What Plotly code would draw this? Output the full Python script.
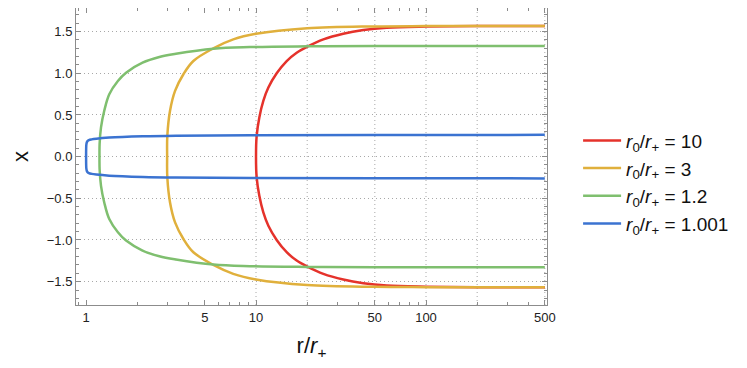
import plotly.graph_objects as go
import numpy as np

# upper branches (lower branch is the mirror image)
r_10 = [10, 10.09, 10.46, 11.04, 11.82, 13.23, 15.15, 17.35, 20.04, 24.9, 32.6, 42.8, 58.7, 100, 200, 500]
x_10 = [0, 0.251, 0.47, 0.669, 0.829, 1.0, 1.147, 1.247, 1.319, 1.406, 1.474, 1.518, 1.546, 1.560, 1.566, 1.568]

r_3 = [3, 3.008, 3.12, 3.34, 3.74, 4.28, 5.61, 7.35, 10, 20, 50, 100, 500]
x_3 = [0, 0.251, 0.55, 0.789, 0.988, 1.147, 1.299, 1.406, 1.473, 1.54, 1.562, 1.566, 1.568]

r_12 = [1.2, 1.202, 1.225, 1.28, 1.37, 1.54, 1.72, 2.15, 2.70, 3.38, 5.61, 9.2, 20, 50, 500]
x_12 = [0, 0.152, 0.35, 0.55, 0.749, 0.908, 1.007, 1.127, 1.195, 1.234, 1.295, 1.314, 1.323, 1.326, 1.327]

r_1001 = [1.001, 1.002, 1.004, 1.01, 1.02, 1.04, 1.08, 1.15, 1.37, 2.16, 3.38, 10, 50, 500]
x_1001 = [0, 0.1, 0.14, 0.17, 0.185, 0.198, 0.207, 0.215, 0.228, 0.243, 0.25, 0.257, 0.26, 0.261]

labels = ["10", "3", "1.2", "1.001"]
colors = ["#E5322B", "#E0B03C", "#7FBF6F", "#3B73D1"]

x_tickvals = [1, 5, 10, 50, 100, 500]
x_minor = [0.9, 2, 3, 4, 6, 7, 8, 9, 20, 30, 40, 60, 70, 80, 90, 200, 300, 400]
x_grid = [10, 20, 50, 100, 200, 500]

series = [(r_10, x_10), (r_3, x_3), (r_12, x_12), (r_1001, x_1001)]

fig = go.Figure()
for i, (rr, xx) in enumerate(series):
    r_full = rr[::-1] + rr[1:]
    x_full = [-v for v in xx[::-1]] + xx[1:]
    fig.add_trace(go.Scatter(
        x=r_full, y=x_full, mode="lines",
        line=dict(color=colors[i], width=2.5, shape="spline", smoothing=1.0),
        name=f"<i>r</i><sub>0</sub>/<i>r</i><sub>+</sub> = {labels[i]}",
        legendgroup=f"g{i}",
    ))

# vertical dotted grid only from 10 upward
for g in x_grid:
    fig.add_shape(type="line", xref="x", yref="paper", x0=g, x1=g, y0=0, y1=1,
                  line=dict(color="#a8a8a8", width=1, dash="1px,3px"), layer="below")

axis_font = dict(family="Liberation Sans, Arial", size=13, color="#222")
grey = "#8c8c8c"

fig.update_xaxes(
    type="log", range=[np.log10(0.873), np.log10(515)],
    tickvals=x_tickvals, ticktext=[str(v) for v in x_tickvals],
    ticks="inside", ticklen=5, tickcolor=grey,
    minor=dict(tickvals=x_minor, ticks="inside", ticklen=3, tickcolor=grey, showgrid=False),
    showgrid=False, zeroline=False,
    showline=True, linecolor=grey, linewidth=1, mirror="ticks",
    tickfont=axis_font,
    title=dict(text="r/<i>r</i><sub>+</sub>", font=dict(family="Liberation Sans, Arial", size=22, color="#111"), standoff=14),
)
fig.update_yaxes(
    range=[-1.78, 1.783], dtick=0.5, tick0=0, tickformat=".1f",
    ticks="inside", ticklen=5, tickcolor=grey,
    minor=dict(dtick=0.1, ticks="inside", ticklen=3, tickcolor=grey, showgrid=False),
    showgrid=True, gridcolor="#a8a8a8", griddash="1px,3px", gridwidth=1,
    zeroline=False,
    showline=True, linecolor=grey, linewidth=1, mirror="ticks",
    tickfont=axis_font,
    title=dict(text="x", font=dict(family="Liberation Sans, Arial", size=22, color="#111"), standoff=12),
)

# the page adds an 8px body margin, so the figure is sized 8px smaller
fig.update_layout(
    width=739, height=360,
    margin=dict(l=68, r=200, t=0, b=63),
    plot_bgcolor="white", paper_bgcolor="white",
    legend=dict(x=1.066, y=0.414, xanchor="left", yanchor="middle",
                font=dict(family="Liberation Sans, Arial", size=19, color="#111"),
                itemwidth=38, tracegroupgap=8, traceorder="normal"),
)

fig.write_html("out.html")
